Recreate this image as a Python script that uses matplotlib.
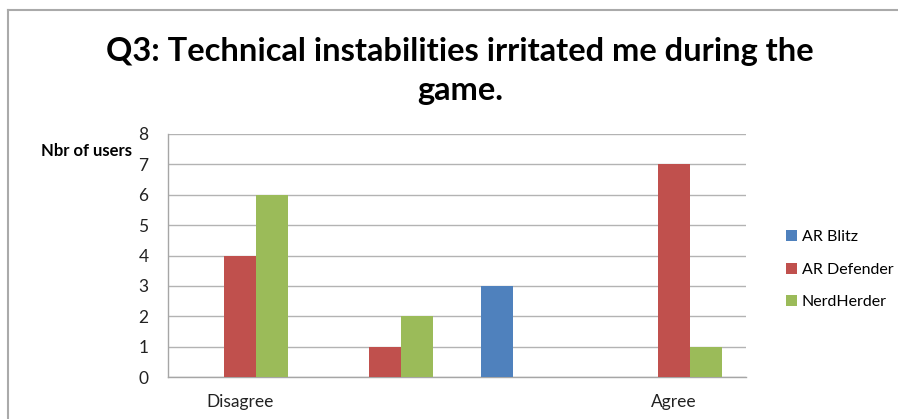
import matplotlib
matplotlib.use('Agg')
import matplotlib.pyplot as plt
from matplotlib.lines import Line2D
import numpy as np

categories = ['Disagree', '', '', 'Agree']
series_names = ['AR Blitz', 'AR Defender', 'NerdHerder']
ar_blitz = [0, 0, 3, 0]
ar_defender = [4, 1, 0, 7]
nerd_herder = [6, 2, 0, 1]
colors = ['#4F81BD', '#C0504D', '#9BBB59']

plt.rcParams['font.family'] = ['Lato', 'DejaVu Sans']

fig = plt.figure(figsize=(8.98, 4.19), dpi=100)
ax = fig.add_axes([0.1871, 0.1002, 0.8307 - 0.1871, 0.6802 - 0.1002])

x = np.arange(len(categories))
w = 0.222
for i, (name, vals) in enumerate(zip(series_names, [ar_blitz, ar_defender, nerd_herder])):
    ax.bar(x + (i - 1) * w, vals, w, color=colors[i], label=name, zorder=3)

ax.set_xlim(-0.5, len(categories) - 0.5)
ax.set_ylim(0, 8)
ax.set_yticks(range(0, 9))
ax.set_xticks(x)
ax.set_xticklabels(categories)
ax.yaxis.grid(True, color='#b3b3b3', linewidth=1.0, zorder=0)
ax.tick_params(axis='both', length=0, labelsize=12.5, colors='#222222')
ax.tick_params(axis='x', pad=12)
ax.tick_params(axis='y', pad=14)
for s in ['top', 'right']:
    ax.spines[s].set_visible(False)
for s in ['left', 'bottom']:
    ax.spines[s].set_color('#a6a6a6')
    ax.spines[s].set_linewidth(1.0)

fig.text(132 / 898, 1 - 151 / 419, 'Nbr of users', ha='right', va='center',
         fontsize=12, fontweight='bold')

fig.text(460 / 898, 1 - 71 / 419, 'Q3: Technical instabilities irritated me during the\ngame.',
         ha='center', va='center', fontsize=23.5, fontweight='bold', linespacing=1.38)

ax.legend(loc='center left', bbox_to_anchor=(0.859, 0.356), bbox_transform=fig.transFigure,
          frameon=False, fontsize=11.5, handlelength=0.7, handleheight=0.7,
          handletextpad=0.3, labelspacing=1.15)

# outer chart border (left and top)
fig.add_artist(Line2D([8 / 898, 8 / 898], [0, 1 - 10 / 419], color='#aaaaaa', lw=1.5,
                      transform=fig.transFigure))
fig.add_artist(Line2D([8 / 898, 1], [1 - 10 / 419, 1 - 10 / 419], color='#aaaaaa', lw=1.5,
                      transform=fig.transFigure))

fig.savefig('out.png', dpi=100)
